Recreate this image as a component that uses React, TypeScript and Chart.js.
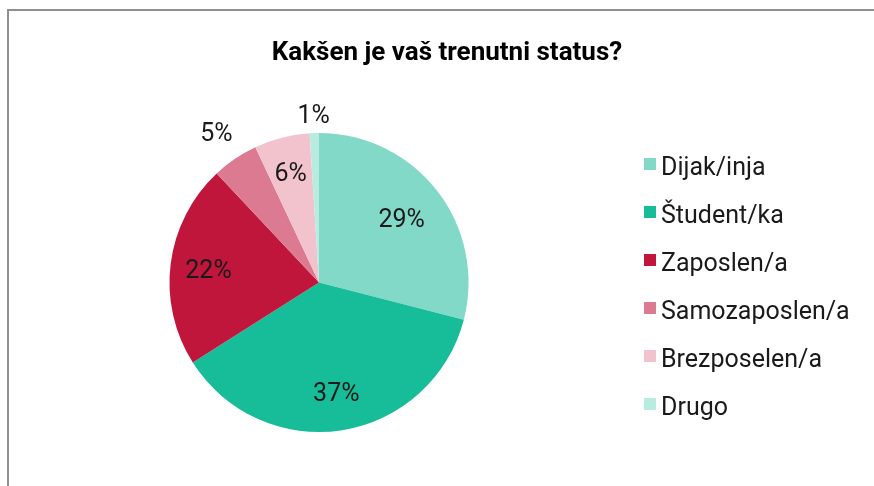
import React, { useEffect, useRef } from "react";
import { Chart, registerables } from "chart.js";

Chart.register(...registerables);

const TITLE = "Kakšen je vaš trenutni status?";
const categories = ["Dijak/inja", "Študent/ka", "Zaposlen/a", "Samozaposlen/a", "Brezposelen/a", "Drugo"];
const percentages = [29, 37, 22, 5, 6, 1];
const colors = ["#82d9c7", "#17bc98", "#c0163b", "#db7a90", "#f2c3cd", "#b8ece0"];
// radial position of each value label, as a fraction of the pie radius (style only)
const labelRadius = [0.7, 0.74, 0.745, 1.22, 0.76, 1.13];

const FONT = "Roboto, 'DejaVu Sans', sans-serif";

const overlayPlugin = {
  id: "overlay",
  afterDraw(chart: any) {
    const ctx = chart.ctx;
    ctx.save();
    // Title
    ctx.fillStyle = "#000";
    ctx.font = `bold 26px ${FONT}`;
    ctx.textAlign = "center";
    ctx.textBaseline = "alphabetic";
    ctx.fillText(TITLE, 447, 59.5);

    // Value labels
    const meta = chart.getDatasetMeta(0);
    ctx.font = `25px ${FONT}`;
    ctx.fillStyle = "#1a1a1a";
    ctx.textAlign = "center";
    ctx.textBaseline = "alphabetic";
    meta.data.forEach((arc: any, i: number) => {
      const p = arc.getProps(["x", "y", "startAngle", "endAngle", "outerRadius"], true);
      const mid = (p.startAngle + p.endAngle) / 2;
      const r = p.outerRadius * labelRadius[i];
      const x = p.x + Math.cos(mid) * r;
      const y = p.y + Math.sin(mid) * r;
      ctx.fillText(`${percentages[i]}%`, x, y + 9);
    });

    // Legend
    const labels = chart.data.labels as string[];
    const bg = chart.data.datasets[0].backgroundColor as string[];
    ctx.font = `25px ${FONT}`;
    ctx.textAlign = "left";
    labels.forEach((lab, i) => {
      const baseY = 175 + i * 48;
      ctx.fillStyle = bg[i];
      ctx.fillRect(644, baseY - 17, 12, 12);
      ctx.fillStyle = "#1a1a1a";
      ctx.fillText(lab, 661, baseY);
    });
    ctx.restore();
  },
};

export default function App() {
  const ref = useRef<HTMLCanvasElement>(null);
  useEffect(() => {
    if (!ref.current) return;
    const chart = new Chart(ref.current, {
      type: "pie",
      data: {
        labels: categories,
        datasets: [
          {
            data: percentages,
            backgroundColor: colors,
            borderWidth: 0,
          },
        ],
      },
      options: {
        responsive: false,
        animation: false,
        devicePixelRatio: 1,
        layout: { padding: { left: 19, right: 255, top: 133, bottom: 54 } },
        plugins: {
          legend: { display: false },
          title: { display: false },
          tooltip: { enabled: false },
        },
      },
      plugins: [overlayPlugin],
    });
    return () => chart.destroy();
  }, []);

  return (
    <div style={{ position: "fixed", left: 0, top: 0, width: 874, height: 486, background: "#fff", overflow: "hidden" }}>
      <div
        style={{
          position: "absolute",
          left: 7,
          top: 9,
          width: 900,
          height: 520,
          border: "2px solid #8f8f8f",
          boxSizing: "border-box",
        }}
      />
      <canvas ref={ref} width={874} height={486} style={{ position: "absolute", left: 0, top: 0, display: "block" }} />
    </div>
  );
}
